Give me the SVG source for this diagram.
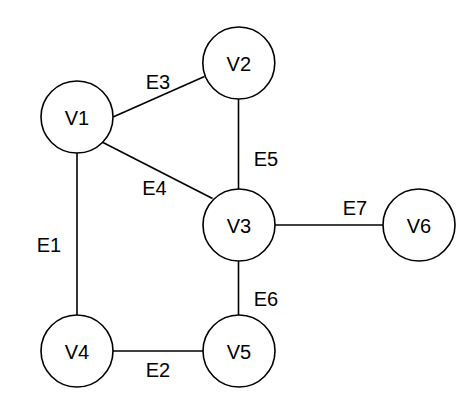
<svg xmlns="http://www.w3.org/2000/svg" width="466" height="406" viewBox="0 0 466 406">
<style>
.node circle{fill:#fff;stroke:#000;stroke-width:1.6}
.node text,.lbl{font-family:"Liberation Sans",Arial,sans-serif;font-size:20px;fill:#000;text-anchor:middle}
#edges line{stroke:#000;stroke-width:1.6}
</style>
<rect width="466" height="406" fill="#fff"/>
<g id="edges">
<line x1="77" y1="153" x2="77" y2="315"/>
<line x1="113" y1="351" x2="203" y2="351"/>
<line x1="113" y1="117" x2="204.5" y2="76.5"/>
<line x1="103" y1="142.5" x2="212.5" y2="198.5"/>
<line x1="238.5" y1="99" x2="238.5" y2="189"/>
<line x1="238.5" y1="261" x2="238.5" y2="315"/>
<line x1="275" y1="225" x2="383" y2="225"/>
</g>
<g id="edge-labels">
<text class="lbl" x="49" y="251.5">E1</text>
<text class="lbl" x="158" y="377">E2</text>
<text class="lbl" x="158" y="89">E3</text>
<text class="lbl" x="154.5" y="195">E4</text>
<text class="lbl" x="266" y="166">E5</text>
<text class="lbl" x="266" y="306">E6</text>
<text class="lbl" x="355" y="215">E7</text>
</g>
<g id="V1" class="node"><circle cx="77" cy="117" r="36"/><text x="77" y="124.5">V1</text></g>
<g id="V2" class="node"><circle cx="238.8" cy="63" r="36"/><text x="238.8" y="70.5">V2</text></g>
<g id="V3" class="node"><circle cx="239" cy="225" r="36"/><text x="239" y="232.5">V3</text></g>
<g id="V4" class="node"><circle cx="77" cy="351" r="36"/><text x="77" y="358.5">V4</text></g>
<g id="V5" class="node"><circle cx="239" cy="351" r="36"/><text x="239" y="358.5">V5</text></g>
<g id="V6" class="node"><circle cx="419" cy="225" r="36"/><text x="419" y="232.5">V6</text></g>
</svg>
